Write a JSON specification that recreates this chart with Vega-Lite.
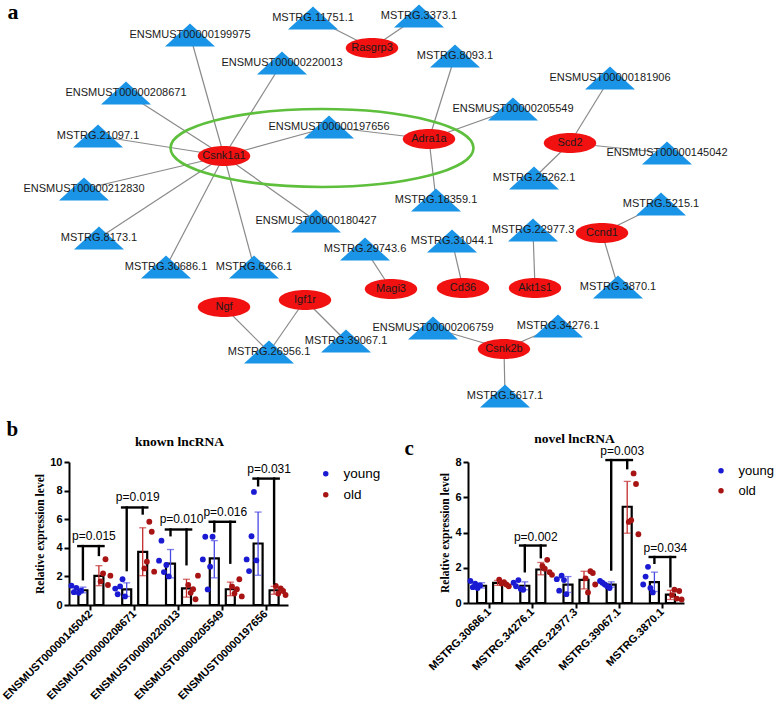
{
  "$schema": "https://vega.github.io/schema/vega-lite/v6.json",
  "padding": {"left": 0, "top": 0, "right": 0, "bottom": 0},
  "background": "white",
  "spacing": 7,
  "config": {
    "view": {"stroke": null},
    "font": "Liberation Sans",
    "axis": {"grid": false},
    "axisY": {"labelOverlap": false, "labelBound": false}
  },
  "datasets": {
    "nodes": [
      {"id": "Rasgrp3", "type": "gene", "x": 371, "y": 47},
      {"id": "Csnk1a1", "type": "gene", "x": 223, "y": 155},
      {"id": "Adra1a", "type": "gene", "x": 428, "y": 138},
      {"id": "Scd2", "type": "gene", "x": 569, "y": 142},
      {"id": "Magi3", "type": "gene", "x": 390, "y": 288},
      {"id": "Cd36", "type": "gene", "x": 462, "y": 287},
      {"id": "Akt1s1", "type": "gene", "x": 534, "y": 287},
      {"id": "Ccnd1", "type": "gene", "x": 601, "y": 232},
      {"id": "Ngf", "type": "gene", "x": 223, "y": 306},
      {"id": "Igf1r", "type": "gene", "x": 304, "y": 299},
      {"id": "Csnk2b", "type": "gene", "x": 503, "y": 348},
      {"id": "MSTRG.11751.1", "type": "lncRNA", "x": 312, "y": 17},
      {"id": "ENSMUST00000199975", "type": "lncRNA", "x": 189, "y": 34},
      {"id": "ENSMUST00000220013", "type": "lncRNA", "x": 281, "y": 62},
      {"id": "ENSMUST00000208671", "type": "lncRNA", "x": 125, "y": 92},
      {"id": "MSTRG.21097.1", "type": "lncRNA", "x": 97, "y": 135},
      {"id": "ENSMUST00000197656", "type": "lncRNA", "x": 328, "y": 126},
      {"id": "MSTRG.3373.1", "type": "lncRNA", "x": 418, "y": 15},
      {"id": "MSTRG.8093.1", "type": "lncRNA", "x": 454, "y": 55},
      {"id": "ENSMUST00000181906", "type": "lncRNA", "x": 609, "y": 77},
      {"id": "ENSMUST00000205549", "type": "lncRNA", "x": 512, "y": 108},
      {"id": "ENSMUST00000145042", "type": "lncRNA", "x": 666, "y": 152},
      {"id": "MSTRG.25262.1", "type": "lncRNA", "x": 533, "y": 177},
      {"id": "ENSMUST00000212830", "type": "lncRNA", "x": 83, "y": 188},
      {"id": "MSTRG.8173.1", "type": "lncRNA", "x": 98, "y": 237},
      {"id": "MSTRG.30686.1", "type": "lncRNA", "x": 165, "y": 266},
      {"id": "MSTRG.6266.1", "type": "lncRNA", "x": 253, "y": 266},
      {"id": "ENSMUST00000180427", "type": "lncRNA", "x": 315, "y": 220},
      {"id": "MSTRG.29743.6", "type": "lncRNA", "x": 364, "y": 248},
      {"id": "MSTRG.26956.1", "type": "lncRNA", "x": 268, "y": 351},
      {"id": "MSTRG.39067.1", "type": "lncRNA", "x": 345, "y": 340},
      {"id": "MSTRG.18359.1", "type": "lncRNA", "x": 435, "y": 199},
      {"id": "MSTRG.31044.1", "type": "lncRNA", "x": 451, "y": 240},
      {"id": "MSTRG.22977.3", "type": "lncRNA", "x": 532, "y": 229},
      {"id": "MSTRG.5215.1", "type": "lncRNA", "x": 660, "y": 203},
      {"id": "MSTRG.3870.1", "type": "lncRNA", "x": 617, "y": 286},
      {"id": "ENSMUST00000206759", "type": "lncRNA", "x": 432, "y": 327},
      {"id": "MSTRG.34276.1", "type": "lncRNA", "x": 557, "y": 325},
      {"id": "MSTRG.5617.1", "type": "lncRNA", "x": 504, "y": 395}
    ],
    "edges": [
      {"source": "Csnk1a1", "target": "ENSMUST00000199975"},
      {"source": "Csnk1a1", "target": "ENSMUST00000220013"},
      {"source": "Csnk1a1", "target": "ENSMUST00000208671"},
      {"source": "Csnk1a1", "target": "MSTRG.21097.1"},
      {"source": "Csnk1a1", "target": "ENSMUST00000197656"},
      {"source": "Csnk1a1", "target": "ENSMUST00000212830"},
      {"source": "Csnk1a1", "target": "MSTRG.8173.1"},
      {"source": "Csnk1a1", "target": "MSTRG.30686.1"},
      {"source": "Csnk1a1", "target": "MSTRG.6266.1"},
      {"source": "Csnk1a1", "target": "ENSMUST00000180427"},
      {"source": "Rasgrp3", "target": "MSTRG.11751.1"},
      {"source": "Rasgrp3", "target": "MSTRG.3373.1"},
      {"source": "Adra1a", "target": "MSTRG.8093.1"},
      {"source": "Adra1a", "target": "ENSMUST00000205549"},
      {"source": "Adra1a", "target": "ENSMUST00000197656"},
      {"source": "Adra1a", "target": "MSTRG.18359.1"},
      {"source": "Scd2", "target": "ENSMUST00000181906"},
      {"source": "Scd2", "target": "ENSMUST00000145042"},
      {"source": "Scd2", "target": "MSTRG.25262.1"},
      {"source": "Magi3", "target": "MSTRG.29743.6"},
      {"source": "Cd36", "target": "MSTRG.31044.1"},
      {"source": "Akt1s1", "target": "MSTRG.22977.3"},
      {"source": "Ccnd1", "target": "MSTRG.5215.1"},
      {"source": "Ccnd1", "target": "MSTRG.3870.1"},
      {"source": "Ngf", "target": "MSTRG.26956.1"},
      {"source": "Igf1r", "target": "MSTRG.26956.1"},
      {"source": "Igf1r", "target": "MSTRG.39067.1"},
      {"source": "Csnk2b", "target": "ENSMUST00000206759"},
      {"source": "Csnk2b", "target": "MSTRG.34276.1"},
      {"source": "Csnk2b", "target": "MSTRG.5617.1"}
    ],
    "ring": [{"module": "Csnk1a1-Adra1a", "x": 321, "y": 147}],
    "bBars": [
      {"gene": "ENSMUST00000145042", "group": "young", "mean": 1.03, "lo": 0.85, "hi": 1.25},
      {"gene": "ENSMUST00000145042", "group": "old", "mean": 2.03, "lo": 1.35, "hi": 2.75},
      {"gene": "ENSMUST00000208671", "group": "young", "mean": 1.09, "lo": 0.6, "hi": 1.55},
      {"gene": "ENSMUST00000208671", "group": "old", "mean": 3.72, "lo": 2.05, "hi": 5.4},
      {"gene": "ENSMUST00000220013", "group": "young", "mean": 2.9, "lo": 1.9, "hi": 3.88},
      {"gene": "ENSMUST00000220013", "group": "old", "mean": 1.16, "lo": 0.55, "hi": 1.8},
      {"gene": "ENSMUST00000205549", "group": "young", "mean": 3.26, "lo": 1.9, "hi": 4.5},
      {"gene": "ENSMUST00000205549", "group": "old", "mean": 1.1, "lo": 0.65, "hi": 1.6},
      {"gene": "ENSMUST00000197656", "group": "young", "mean": 4.3, "lo": 2.08, "hi": 6.5},
      {"gene": "ENSMUST00000197656", "group": "old", "mean": 1.03, "lo": 0.75, "hi": 1.3}
    ],
    "bPoints": [
      {"gene": "ENSMUST00000145042", "group": "young", "rep": "y1", "value": 1.35},
      {"gene": "ENSMUST00000145042", "group": "young", "rep": "y2", "value": 0.9},
      {"gene": "ENSMUST00000145042", "group": "young", "rep": "y3", "value": 1.2},
      {"gene": "ENSMUST00000145042", "group": "young", "rep": "y4", "value": 0.85},
      {"gene": "ENSMUST00000145042", "group": "young", "rep": "y5", "value": 1.0},
      {"gene": "ENSMUST00000145042", "group": "old", "rep": "o1", "value": 1.65},
      {"gene": "ENSMUST00000145042", "group": "old", "rep": "o2", "value": 2.2},
      {"gene": "ENSMUST00000145042", "group": "old", "rep": "o3", "value": 3.2},
      {"gene": "ENSMUST00000145042", "group": "old", "rep": "o4", "value": 1.4},
      {"gene": "ENSMUST00000145042", "group": "old", "rep": "o5", "value": 2.05},
      {"gene": "ENSMUST00000208671", "group": "young", "rep": "y1", "value": 1.15},
      {"gene": "ENSMUST00000208671", "group": "young", "rep": "y2", "value": 0.75},
      {"gene": "ENSMUST00000208671", "group": "young", "rep": "y3", "value": 1.3},
      {"gene": "ENSMUST00000208671", "group": "young", "rep": "y4", "value": 1.8},
      {"gene": "ENSMUST00000208671", "group": "young", "rep": "y5", "value": 0.6},
      {"gene": "ENSMUST00000208671", "group": "old", "rep": "o1", "value": 2.56},
      {"gene": "ENSMUST00000208671", "group": "old", "rep": "o2", "value": 3.03},
      {"gene": "ENSMUST00000208671", "group": "old", "rep": "o3", "value": 5.82},
      {"gene": "ENSMUST00000208671", "group": "old", "rep": "o4", "value": 5.12},
      {"gene": "ENSMUST00000208671", "group": "old", "rep": "o5", "value": 2.33},
      {"gene": "ENSMUST00000220013", "group": "young", "rep": "y1", "value": 3.1},
      {"gene": "ENSMUST00000220013", "group": "young", "rep": "y2", "value": 4.5},
      {"gene": "ENSMUST00000220013", "group": "young", "rep": "y3", "value": 2.3},
      {"gene": "ENSMUST00000220013", "group": "young", "rep": "y4", "value": 2.8},
      {"gene": "ENSMUST00000220013", "group": "young", "rep": "y5", "value": 2.0},
      {"gene": "ENSMUST00000220013", "group": "old", "rep": "o1", "value": 1.4},
      {"gene": "ENSMUST00000220013", "group": "old", "rep": "o2", "value": 0.85},
      {"gene": "ENSMUST00000220013", "group": "old", "rep": "o3", "value": 1.1},
      {"gene": "ENSMUST00000220013", "group": "old", "rep": "o4", "value": 0.4},
      {"gene": "ENSMUST00000220013", "group": "old", "rep": "o5", "value": 2.05},
      {"gene": "ENSMUST00000205549", "group": "young", "rep": "y1", "value": 3.19},
      {"gene": "ENSMUST00000205549", "group": "young", "rep": "y2", "value": 4.77},
      {"gene": "ENSMUST00000205549", "group": "young", "rep": "y3", "value": 1.09},
      {"gene": "ENSMUST00000205549", "group": "young", "rep": "y4", "value": 2.68},
      {"gene": "ENSMUST00000205549", "group": "young", "rep": "y5", "value": 4.77},
      {"gene": "ENSMUST00000205549", "group": "old", "rep": "o1", "value": 1.3},
      {"gene": "ENSMUST00000205549", "group": "old", "rep": "o2", "value": 0.8},
      {"gene": "ENSMUST00000205549", "group": "old", "rep": "o3", "value": 1.1},
      {"gene": "ENSMUST00000205549", "group": "old", "rep": "o4", "value": 1.8},
      {"gene": "ENSMUST00000205549", "group": "old", "rep": "o5", "value": 0.6},
      {"gene": "ENSMUST00000197656", "group": "young", "rep": "y1", "value": 3.19},
      {"gene": "ENSMUST00000197656", "group": "young", "rep": "y2", "value": 2.37},
      {"gene": "ENSMUST00000197656", "group": "young", "rep": "y3", "value": 4.81},
      {"gene": "ENSMUST00000197656", "group": "young", "rep": "y4", "value": 7.91},
      {"gene": "ENSMUST00000197656", "group": "young", "rep": "y5", "value": 3.12},
      {"gene": "ENSMUST00000197656", "group": "old", "rep": "o1", "value": 1.33},
      {"gene": "ENSMUST00000197656", "group": "old", "rep": "o2", "value": 0.81},
      {"gene": "ENSMUST00000197656", "group": "old", "rep": "o3", "value": 1.16},
      {"gene": "ENSMUST00000197656", "group": "old", "rep": "o4", "value": 0.98},
      {"gene": "ENSMUST00000197656", "group": "old", "rep": "o5", "value": 0.7}
    ],
    "bBrackets": [
      {"gene": "ENSMUST00000145042", "group": "young", "low": 1.8, "top": 4.12},
      {"gene": "ENSMUST00000145042", "group": "old", "low": 3.5, "top": 4.12},
      {"gene": "ENSMUST00000208671", "group": "young", "low": 2.44, "top": 6.82},
      {"gene": "ENSMUST00000208671", "group": "old", "low": 6.4, "top": 6.82},
      {"gene": "ENSMUST00000220013", "group": "young", "low": 4.88, "top": 5.28},
      {"gene": "ENSMUST00000220013", "group": "old", "low": 2.85, "top": 5.28},
      {"gene": "ENSMUST00000205549", "group": "young", "low": 5.16, "top": 5.82},
      {"gene": "ENSMUST00000205549", "group": "old", "low": 2.96, "top": 5.82},
      {"gene": "ENSMUST00000197656", "group": "young", "low": 8.37, "top": 8.84},
      {"gene": "ENSMUST00000197656", "group": "old", "low": 1.51, "top": 8.84}
    ],
    "bPvals": [
      {"gene": "ENSMUST00000145042", "p": "p=0.015", "top": 4.12},
      {"gene": "ENSMUST00000208671", "p": "p=0.019", "top": 6.82},
      {"gene": "ENSMUST00000220013", "p": "p=0.010", "top": 5.28},
      {"gene": "ENSMUST00000205549", "p": "p=0.016", "top": 5.82},
      {"gene": "ENSMUST00000197656", "p": "p=0.031", "top": 8.84}
    ],
    "cBars": [
      {"gene": "MSTRG.30686.1", "group": "young", "mean": 0.98, "lo": 0.85, "hi": 1.15},
      {"gene": "MSTRG.30686.1", "group": "old", "mean": 1.14, "lo": 1.0, "hi": 1.28},
      {"gene": "MSTRG.34276.1", "group": "young", "mean": 0.98, "lo": 0.75, "hi": 1.2},
      {"gene": "MSTRG.34276.1", "group": "old", "mean": 1.9, "lo": 1.6, "hi": 2.3},
      {"gene": "MSTRG.22977.3", "group": "young", "mean": 1.04, "lo": 0.6, "hi": 1.5},
      {"gene": "MSTRG.22977.3", "group": "old", "mean": 1.31, "lo": 0.8, "hi": 1.8},
      {"gene": "MSTRG.39067.1", "group": "young", "mean": 1.04, "lo": 0.9, "hi": 1.2},
      {"gene": "MSTRG.39067.1", "group": "old", "mean": 5.46, "lo": 3.96, "hi": 6.9},
      {"gene": "MSTRG.3870.1", "group": "young", "mean": 1.19, "lo": 0.65, "hi": 1.75},
      {"gene": "MSTRG.3870.1", "group": "old", "mean": 0.47, "lo": 0.2, "hi": 0.72}
    ],
    "cPoints": [
      {"gene": "MSTRG.30686.1", "group": "young", "rep": "y1", "value": 1.25},
      {"gene": "MSTRG.30686.1", "group": "young", "rep": "y2", "value": 0.9},
      {"gene": "MSTRG.30686.1", "group": "young", "rep": "y3", "value": 1.1},
      {"gene": "MSTRG.30686.1", "group": "young", "rep": "y4", "value": 0.85},
      {"gene": "MSTRG.30686.1", "group": "young", "rep": "y5", "value": 1.0},
      {"gene": "MSTRG.30686.1", "group": "old", "rep": "o1", "value": 1.33},
      {"gene": "MSTRG.30686.1", "group": "old", "rep": "o2", "value": 1.1},
      {"gene": "MSTRG.30686.1", "group": "old", "rep": "o3", "value": 1.18},
      {"gene": "MSTRG.30686.1", "group": "old", "rep": "o4", "value": 1.05},
      {"gene": "MSTRG.30686.1", "group": "old", "rep": "o5", "value": 0.95},
      {"gene": "MSTRG.34276.1", "group": "young", "rep": "y1", "value": 1.15},
      {"gene": "MSTRG.34276.1", "group": "young", "rep": "y2", "value": 0.95},
      {"gene": "MSTRG.34276.1", "group": "young", "rep": "y3", "value": 1.3},
      {"gene": "MSTRG.34276.1", "group": "young", "rep": "y4", "value": 0.8},
      {"gene": "MSTRG.34276.1", "group": "young", "rep": "y5", "value": 0.75},
      {"gene": "MSTRG.34276.1", "group": "old", "rep": "o1", "value": 2.1},
      {"gene": "MSTRG.34276.1", "group": "old", "rep": "o2", "value": 1.95},
      {"gene": "MSTRG.34276.1", "group": "old", "rep": "o3", "value": 2.45},
      {"gene": "MSTRG.34276.1", "group": "old", "rep": "o4", "value": 1.75},
      {"gene": "MSTRG.34276.1", "group": "old", "rep": "o5", "value": 1.6},
      {"gene": "MSTRG.22977.3", "group": "young", "rep": "y1", "value": 1.35},
      {"gene": "MSTRG.22977.3", "group": "young", "rep": "y2", "value": 0.7},
      {"gene": "MSTRG.22977.3", "group": "young", "rep": "y3", "value": 1.55},
      {"gene": "MSTRG.22977.3", "group": "young", "rep": "y4", "value": 1.3},
      {"gene": "MSTRG.22977.3", "group": "young", "rep": "y5", "value": 0.5},
      {"gene": "MSTRG.22977.3", "group": "old", "rep": "o1", "value": 1.4},
      {"gene": "MSTRG.22977.3", "group": "old", "rep": "o2", "value": 0.6},
      {"gene": "MSTRG.22977.3", "group": "old", "rep": "o3", "value": 1.8},
      {"gene": "MSTRG.22977.3", "group": "old", "rep": "o4", "value": 1.7},
      {"gene": "MSTRG.22977.3", "group": "old", "rep": "o5", "value": 1.05},
      {"gene": "MSTRG.39067.1", "group": "young", "rep": "y1", "value": 1.25},
      {"gene": "MSTRG.39067.1", "group": "young", "rep": "y2", "value": 1.15},
      {"gene": "MSTRG.39067.1", "group": "young", "rep": "y3", "value": 1.05},
      {"gene": "MSTRG.39067.1", "group": "young", "rep": "y4", "value": 0.95},
      {"gene": "MSTRG.39067.1", "group": "young", "rep": "y5", "value": 0.85},
      {"gene": "MSTRG.39067.1", "group": "old", "rep": "o1", "value": 4.6},
      {"gene": "MSTRG.39067.1", "group": "old", "rep": "o2", "value": 4.7},
      {"gene": "MSTRG.39067.1", "group": "old", "rep": "o3", "value": 7.35},
      {"gene": "MSTRG.39067.1", "group": "old", "rep": "o4", "value": 6.75},
      {"gene": "MSTRG.39067.1", "group": "old", "rep": "o5", "value": 3.9},
      {"gene": "MSTRG.3870.1", "group": "young", "rep": "y1", "value": 1.05},
      {"gene": "MSTRG.3870.1", "group": "young", "rep": "y2", "value": 1.5},
      {"gene": "MSTRG.3870.1", "group": "young", "rep": "y3", "value": 2.05},
      {"gene": "MSTRG.3870.1", "group": "young", "rep": "y4", "value": 0.85},
      {"gene": "MSTRG.3870.1", "group": "young", "rep": "y5", "value": 0.6},
      {"gene": "MSTRG.3870.1", "group": "old", "rep": "o1", "value": 0.45},
      {"gene": "MSTRG.3870.1", "group": "old", "rep": "o2", "value": 0.75},
      {"gene": "MSTRG.3870.1", "group": "old", "rep": "o3", "value": 0.25},
      {"gene": "MSTRG.3870.1", "group": "old", "rep": "o4", "value": 0.68},
      {"gene": "MSTRG.3870.1", "group": "old", "rep": "o5", "value": 0.2}
    ],
    "cBrackets": [
      {"gene": "MSTRG.34276.1", "group": "young", "low": 1.8, "top": 3.26},
      {"gene": "MSTRG.34276.1", "group": "old", "low": 2.6, "top": 3.26},
      {"gene": "MSTRG.39067.1", "group": "young", "low": 1.9, "top": 8.11},
      {"gene": "MSTRG.39067.1", "group": "old", "low": 7.65, "top": 8.11},
      {"gene": "MSTRG.3870.1", "group": "young", "low": 2.28, "top": 2.61},
      {"gene": "MSTRG.3870.1", "group": "old", "low": 0.95, "top": 2.61}
    ],
    "cPvals": [
      {"gene": "MSTRG.34276.1", "p": "p=0.002", "top": 3.26},
      {"gene": "MSTRG.39067.1", "p": "p=0.003", "top": 8.11},
      {"gene": "MSTRG.3870.1", "p": "p=0.034", "top": 2.61}
    ]
  },
  "vconcat": [
    {
      "width": 709,
      "height": 410,
      "resolve": {"axis": {"x": "independent"}},
      "layer": [
        {
          "data": {"name": "edges"},
          "transform": [
            {"lookup": "source", "from": {"data": {"name": "nodes"}, "key": "id", "fields": ["x", "y"]}, "as": ["sx", "sy"]},
            {"lookup": "target", "from": {"data": {"name": "nodes"}, "key": "id", "fields": ["x", "y"]}, "as": ["tx", "ty"]}
          ],
          "mark": {"type": "rule", "color": "#8a8a8a", "strokeWidth": 1.2},
          "encoding": {
            "x": {"field": "sx", "type": "quantitative", "scale": {"domain": [68, 777], "nice": false, "zero": false}, "axis": null},
            "y": {"field": "sy", "type": "quantitative", "scale": {"domain": [0, 410], "nice": false, "zero": false, "reverse": true}, "axis": null},
            "x2": {"field": "tx"},
            "y2": {"field": "ty"}
          }
        },
        {
          "data": {"name": "ring"},
          "mark": {"type": "point", "filled": false, "stroke": "#5dbf3c", "strokeWidth": 2.6, "opacity": 1, "size": 91809,
                   "shape": "M-1,0C-1,-0.142,-0.552,-0.257,0,-0.257C0.552,-0.257,1,-0.142,1,0C1,0.142,0.552,0.257,0,0.257C-0.552,0.257,-1,0.142,-1,0Z"},
          "encoding": {
            "x": {"field": "x", "type": "quantitative", "scale": {"domain": [68, 777], "nice": false, "zero": false}, "axis": null},
            "y": {"field": "y", "type": "quantitative", "scale": {"domain": [0, 410], "nice": false, "zero": false, "reverse": true}, "axis": null}
          }
        },
        {
          "data": {"name": "nodes"},
          "transform": [{"filter": "datum.type === 'lncRNA'"}],
          "mark": {"type": "point", "filled": true, "color": "#1a94e6", "opacity": 1, "size": 2500, "shape": "M-1,0.46L1,0.46L0,-0.46Z"},
          "encoding": {
            "x": {"field": "x", "type": "quantitative", "scale": {"domain": [68, 777], "nice": false, "zero": false}, "axis": null},
            "y": {"field": "y", "type": "quantitative", "scale": {"domain": [0, 410], "nice": false, "zero": false, "reverse": true}, "axis": null}
          }
        },
        {
          "data": {"name": "nodes"},
          "transform": [{"filter": "datum.type === 'gene'"}],
          "mark": {"type": "point", "filled": true, "color": "#f21111", "opacity": 1, "size": 2750,
                   "shape": "M-1,0C-1,-0.21,-0.552,-0.38,0,-0.38C0.552,-0.38,1,-0.21,1,0C1,0.21,0.552,0.38,0,0.38C-0.552,0.38,-1,0.21,-1,0Z"},
          "encoding": {
            "x": {"field": "x", "type": "quantitative", "scale": {"domain": [68, 777], "nice": false, "zero": false}, "axis": null},
            "y": {"field": "y", "type": "quantitative", "scale": {"domain": [0, 410], "nice": false, "zero": false, "reverse": true}, "axis": null}
          }
        },
        {
          "data": {"name": "nodes"},
          "mark": {"type": "text", "font": "Liberation Sans", "fontSize": 11, "color": "#1a1a1a", "align": "center", "baseline": "middle"},
          "encoding": {
            "x": {"field": "x", "type": "quantitative", "scale": {"domain": [68, 777], "nice": false, "zero": false},
                  "axis": {"orient": "top", "title": "a", "labels": false, "ticks": false, "domain": false, "titleFont": "Liberation Serif", "titleFontSize": 22, "titleFontWeight": "bold", "titleColor": "black", "titleAngle": 0, "titleAlign": "left", "titleBaseline": "alphabetic", "titleX": -62, "titleY": 17}},
            "y": {"field": "y", "type": "quantitative", "scale": {"domain": [0, 410], "nice": false, "zero": false, "reverse": true}, "axis": null},
            "text": {"field": "id"}
          }
        }
      ]
    },
    {
      "bounds": "flush",
      "spacing": 180,
      "resolve": {"scale": {"color": "independent"}},
      "hconcat": [
        {
          "width": 219,
          "height": 143,
          "resolve": {"scale": {"xOffset": "independent"}, "axis": {"x": "independent", "y": "independent"}},
          "layer": [
            {
              "data": {"name": "bBars"},
              "mark": {"type": "bar", "width": 9, "fill": "white", "stroke": "black", "strokeWidth": 2.2},
              "encoding": {
                "x": {"field": "gene", "type": "nominal", "scale": {"domain": ["ENSMUST00000145042", "ENSMUST00000208671", "ENSMUST00000220013", "ENSMUST00000205549", "ENSMUST00000197656"], "paddingInner": 0, "paddingOuter": 0},
                      "axis": {"title": null, "labelAngle": -45, "labelAlign": "right", "labelBaseline": "middle", "labelFont": "Liberation Sans", "labelFontWeight": "bold", "labelFontSize": 11, "labelColor": "black", "labelPadding": 2, "labelLimit": 300, "tickColor": "black", "tickWidth": 2, "tickSize": 5, "domainColor": "black", "domainWidth": 2}},
                "xOffset": {"field": "group", "type": "nominal", "scale": {"domain": ["young", "old"], "paddingInner": 0, "paddingOuter": 0.369}},
                "y": {"field": "mean", "type": "quantitative", "title": "Relative expression level", "scale": {"domain": [0, 10], "nice": false},
                      "axis": {"orient": "left", "values": [0, 2, 4, 6, 8, 10], "labelOverlap": false, "titleFont": "Liberation Serif", "titleFontSize": 11.5, "titleFontWeight": "bold", "titleColor": "black", "titlePadding": 4, "labelFont": "Liberation Sans", "labelFontWeight": "bold", "labelFontSize": 11, "labelColor": "black", "labelPadding": 2, "tickColor": "black", "tickWidth": 2, "tickSize": 5, "domainColor": "black", "domainWidth": 2}}
              }
            },
            {
              "data": {"name": "bBars"},
              "mark": {"type": "rule", "strokeWidth": 1.3},
              "encoding": {
                "x": {"field": "gene", "type": "nominal",
                      "axis": {"orient": "top", "title": "known lncRNA", "labels": false, "ticks": false, "domain": false, "titleFont": "Liberation Serif", "titleFontSize": 13.5, "titleFontWeight": "bold", "titleColor": "black", "titleAngle": 0, "titleAlign": "center", "titleBaseline": "alphabetic", "titleX": 110, "titleY": -17}},
                "xOffset": {"field": "group", "type": "nominal", "scale": {"domain": ["young", "old"], "paddingInner": 0, "paddingOuter": 0.369}},
                "y": {"field": "lo", "type": "quantitative", "axis": null},
                "y2": {"field": "hi"},
                "color": {"condition": {"test": "datum.group === 'young'", "value": "#4848e2"}, "value": "#c42c2c"}
              }
            },
            {
              "data": {"name": "bBars"},
              "mark": {"type": "tick", "orient": "horizontal", "size": 7, "thickness": 1.3},
              "encoding": {
                "x": {"field": "gene", "type": "nominal", "axis": null},
                "xOffset": {"field": "group", "type": "nominal", "scale": {"domain": ["young", "old"], "paddingInner": 0, "paddingOuter": 0.369}},
                "y": {"field": "hi", "type": "quantitative", "axis": null},
                "color": {"condition": {"test": "datum.group === 'young'", "value": "#4848e2"}, "value": "#c42c2c"}
              }
            },
            {
              "data": {"name": "bBars"},
              "mark": {"type": "tick", "orient": "horizontal", "size": 7, "thickness": 1.3},
              "encoding": {
                "x": {"field": "gene", "type": "nominal", "axis": null},
                "xOffset": {"field": "group", "type": "nominal", "scale": {"domain": ["young", "old"], "paddingInner": 0, "paddingOuter": 0.369}},
                "y": {"field": "lo", "type": "quantitative", "axis": null},
                "color": {"condition": {"test": "datum.group === 'young'", "value": "#4848e2"}, "value": "#c42c2c"}
              }
            },
            {
              "data": {"name": "bPoints"},
              "mark": {"type": "point", "filled": true, "size": 34, "opacity": 1},
              "encoding": {
                "x": {"field": "gene", "type": "nominal", "axis": null},
                "xOffset": {"field": "rep", "type": "nominal", "scale": {"domain": ["y1", "y2", "y3", "y4", "y5", "g1", "g2", "g3", "g4", "g5", "g6", "g7", "o1", "o2", "o3", "o4", "o5"], "paddingInner": 0, "paddingOuter": 7.93}},
                "y": {"field": "value", "type": "quantitative", "axis": null},
                "color": {"field": "group", "type": "nominal", "scale": {"domain": ["young", "old"], "range": ["#1a1ad2", "#a81414"]},
                          "legend": {"orient": "none", "legendX": 250, "legendY": 5, "title": null, "labelFont": "Liberation Sans", "labelFontSize": 13.5, "labelColor": "black", "labelOffset": 11, "symbolType": "circle", "symbolSize": 30, "rowPadding": 6, "padding": 0}}
              }
            },
            {
              "data": {"name": "bBrackets"},
              "mark": {"type": "rule", "strokeWidth": 2.4, "color": "black", "strokeCap": "square"},
              "encoding": {
                "x": {"field": "gene", "type": "nominal", "axis": null},
                "xOffset": {"field": "group", "type": "nominal", "scale": {"domain": ["young", "old"], "paddingInner": 0, "paddingOuter": 0.369}},
                "y": {"field": "low", "type": "quantitative", "axis": null},
                "y2": {"field": "top"}
              }
            },
            {
              "data": {"name": "bBrackets"},
              "mark": {"type": "line", "strokeWidth": 2.4, "color": "black", "strokeCap": "square"},
              "encoding": {
                "x": {"field": "gene", "type": "nominal", "axis": null},
                "xOffset": {"field": "group", "type": "nominal", "scale": {"domain": ["young", "old"], "paddingInner": 0, "paddingOuter": 0.369}},
                "y": {"field": "top", "type": "quantitative", "axis": null},
                "detail": {"field": "gene"}
              }
            },
            {
              "data": {"name": "bPvals"},
              "mark": {"type": "text", "font": "Liberation Sans", "fontSize": 12, "dx": 3, "dy": -6, "baseline": "alphabetic", "align": "center", "color": "black"},
              "encoding": {
                "x": {"field": "gene", "type": "nominal",
                      "axis": {"orient": "top", "title": "b", "labels": false, "ticks": false, "domain": false, "titleFont": "Liberation Serif", "titleFontSize": 21, "titleFontWeight": "bold", "titleColor": "black", "titleAngle": 0, "titleAlign": "left", "titleBaseline": "alphabetic", "titleX": -63, "titleY": -27}},
                "y": {"field": "top", "type": "quantitative", "axis": null},
                "text": {"field": "p"}
              }
            }
          ]
        },
        {
          "width": 216,
          "height": 141,
          "resolve": {"scale": {"xOffset": "independent"}, "axis": {"x": "independent", "y": "independent"}},
          "layer": [
            {
              "data": {"name": "cBars"},
              "mark": {"type": "bar", "width": 9, "fill": "white", "stroke": "black", "strokeWidth": 2.2},
              "encoding": {
                "x": {"field": "gene", "type": "nominal", "scale": {"domain": ["MSTRG.30686.1", "MSTRG.34276.1", "MSTRG.22977.3", "MSTRG.39067.1", "MSTRG.3870.1"], "paddingInner": 0, "paddingOuter": 0},
                      "axis": {"title": null, "labelAngle": -45, "labelAlign": "right", "labelBaseline": "middle", "labelFont": "Liberation Sans", "labelFontWeight": "bold", "labelFontSize": 11, "labelColor": "black", "labelPadding": 2, "labelLimit": 300, "tickColor": "black", "tickWidth": 2, "tickSize": 5, "domainColor": "black", "domainWidth": 2}},
                "xOffset": {"field": "group", "type": "nominal", "scale": {"domain": ["young", "old"], "paddingInner": 0, "paddingOuter": 0.35}},
                "y": {"field": "mean", "type": "quantitative", "title": "Relative expression level", "scale": {"domain": [0, 8], "nice": false},
                      "axis": {"orient": "left", "values": [0, 2, 4, 6, 8], "labelOverlap": false, "titleFont": "Liberation Serif", "titleFontSize": 11.5, "titleFontWeight": "bold", "titleColor": "black", "titlePadding": 4, "labelFont": "Liberation Sans", "labelFontWeight": "bold", "labelFontSize": 11, "labelColor": "black", "labelPadding": 2, "tickColor": "black", "tickWidth": 2, "tickSize": 5, "domainColor": "black", "domainWidth": 2}}
              }
            },
            {
              "data": {"name": "cBars"},
              "mark": {"type": "rule", "strokeWidth": 1.3},
              "encoding": {
                "x": {"field": "gene", "type": "nominal",
                      "axis": {"orient": "top", "title": "novel lncRNA", "labels": false, "ticks": false, "domain": false, "titleFont": "Liberation Serif", "titleFontSize": 13.5, "titleFontWeight": "bold", "titleColor": "black", "titleAngle": 0, "titleAlign": "center", "titleBaseline": "alphabetic", "titleX": 106, "titleY": -20}},
                "xOffset": {"field": "group", "type": "nominal", "scale": {"domain": ["young", "old"], "paddingInner": 0, "paddingOuter": 0.35}},
                "y": {"field": "lo", "type": "quantitative", "axis": null},
                "y2": {"field": "hi"},
                "color": {"condition": {"test": "datum.group === 'young'", "value": "#4848e2"}, "value": "#c42c2c"}
              }
            },
            {
              "data": {"name": "cBars"},
              "mark": {"type": "tick", "orient": "horizontal", "size": 7, "thickness": 1.3},
              "encoding": {
                "x": {"field": "gene", "type": "nominal", "axis": null},
                "xOffset": {"field": "group", "type": "nominal", "scale": {"domain": ["young", "old"], "paddingInner": 0, "paddingOuter": 0.35}},
                "y": {"field": "hi", "type": "quantitative", "axis": null},
                "color": {"condition": {"test": "datum.group === 'young'", "value": "#4848e2"}, "value": "#c42c2c"}
              }
            },
            {
              "data": {"name": "cBars"},
              "mark": {"type": "tick", "orient": "horizontal", "size": 7, "thickness": 1.3},
              "encoding": {
                "x": {"field": "gene", "type": "nominal", "axis": null},
                "xOffset": {"field": "group", "type": "nominal", "scale": {"domain": ["young", "old"], "paddingInner": 0, "paddingOuter": 0.35}},
                "y": {"field": "lo", "type": "quantitative", "axis": null},
                "color": {"condition": {"test": "datum.group === 'young'", "value": "#4848e2"}, "value": "#c42c2c"}
              }
            },
            {
              "data": {"name": "cPoints"},
              "mark": {"type": "point", "filled": true, "size": 34, "opacity": 1},
              "encoding": {
                "x": {"field": "gene", "type": "nominal", "axis": null},
                "xOffset": {"field": "rep", "type": "nominal", "scale": {"domain": ["y1", "y2", "y3", "y4", "y5", "g1", "g2", "g3", "g4", "g5", "g6", "g7", "o1", "o2", "o3", "o4", "o5"], "paddingInner": 0, "paddingOuter": 7.7}},
                "y": {"field": "value", "type": "quantitative", "axis": null},
                "color": {"field": "group", "type": "nominal", "scale": {"domain": ["young", "old"], "range": ["#1a1ad2", "#a81414"]},
                          "legend": {"orient": "none", "legendX": 246.5, "legendY": 2.3, "title": null, "labelFont": "Liberation Sans", "labelFontSize": 13, "labelColor": "black", "labelOffset": 11, "symbolType": "circle", "symbolSize": 30, "rowPadding": 6, "padding": 0}}
              }
            },
            {
              "data": {"name": "cBrackets"},
              "mark": {"type": "rule", "strokeWidth": 2.4, "color": "black", "strokeCap": "square"},
              "encoding": {
                "x": {"field": "gene", "type": "nominal", "axis": null},
                "xOffset": {"field": "group", "type": "nominal", "scale": {"domain": ["young", "old"], "paddingInner": 0, "paddingOuter": 0.35}},
                "y": {"field": "low", "type": "quantitative", "axis": null},
                "y2": {"field": "top"}
              }
            },
            {
              "data": {"name": "cBrackets"},
              "mark": {"type": "line", "strokeWidth": 2.4, "color": "black", "strokeCap": "square"},
              "encoding": {
                "x": {"field": "gene", "type": "nominal", "axis": null},
                "xOffset": {"field": "group", "type": "nominal", "scale": {"domain": ["young", "old"], "paddingInner": 0, "paddingOuter": 0.35}},
                "y": {"field": "top", "type": "quantitative", "axis": null},
                "detail": {"field": "gene"}
              }
            },
            {
              "data": {"name": "cPvals"},
              "mark": {"type": "text", "font": "Liberation Sans", "fontSize": 12, "dx": 3, "dy": -5, "baseline": "alphabetic", "align": "center", "color": "black"},
              "encoding": {
                "x": {"field": "gene", "type": "nominal",
                      "axis": {"orient": "top", "title": "c", "labels": false, "ticks": false, "domain": false, "titleFont": "Liberation Serif", "titleFontSize": 21, "titleFontWeight": "bold", "titleColor": "black", "titleAngle": 0, "titleAlign": "left", "titleBaseline": "alphabetic", "titleX": -64, "titleY": -8}},
                "y": {"field": "top", "type": "quantitative", "axis": null},
                "text": {"field": "p"}
              }
            }
          ]
        }
      ]
    }
  ]
}
